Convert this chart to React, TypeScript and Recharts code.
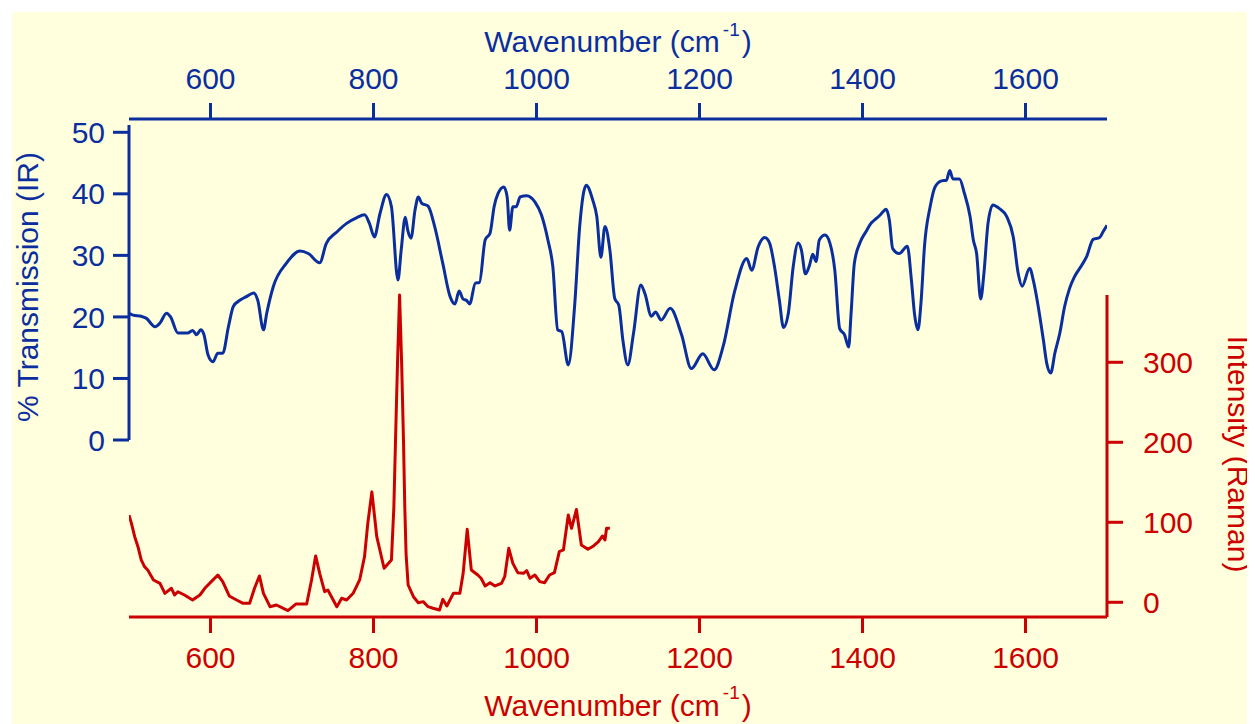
import { LineChart, Line, XAxis, YAxis, ReferenceLine } from 'recharts';

const BLUE = '#0B2E9E';
const RED = '#CC0000';
const BG = '#FFFFDE';
const FONT = "'Liberation Sans', Arial, Helvetica, sans-serif";

// IR spectrum: wavenumber (cm-1) and % transmission
const irWavenumber = [
  500, 505, 515, 521, 532, 538, 546, 551, 560, 572, 578, 583, 588, 592, 597, 603, 609, 615, 622, 628,
  636, 644, 653, 658, 665, 669, 677, 693, 710, 720, 734, 742, 755, 767, 779, 789, 795, 801, 808, 816,
  822, 830, 834, 839, 842, 846, 851, 855, 859, 867, 875, 885, 894, 900, 905, 910, 914, 918, 925, 930,
  937, 943, 948, 953, 960, 964, 967, 971, 975, 980, 988, 998, 1006, 1014, 1020, 1026, 1031, 1039, 1047, 1053,
  1061, 1069, 1074, 1079, 1084, 1090, 1096, 1101, 1106, 1112, 1119, 1128, 1133, 1141, 1146, 1153, 1164, 1178, 1190, 1204,
  1218, 1229, 1243, 1258, 1264, 1272, 1280, 1286, 1292, 1298, 1303, 1309, 1315, 1321, 1325, 1330, 1335, 1339, 1343, 1347,
  1354, 1360, 1366, 1372, 1378, 1383, 1386, 1390, 1397, 1404, 1411, 1417, 1422, 1429, 1433, 1437, 1445, 1455, 1460, 1464,
  1468, 1472, 1476, 1483, 1489, 1497, 1503, 1507, 1511, 1519, 1525, 1532, 1536, 1540, 1545, 1549, 1554, 1560, 1568, 1577,
  1585, 1591, 1596, 1605, 1610, 1615, 1622, 1626, 1631, 1636, 1642, 1648, 1654, 1660, 1669, 1675, 1683, 1691, 1695, 1700,
];
const irTransmission = [
  20.6, 20.3, 20.1, 19.8, 18.4, 19.0, 20.6, 20.0, 17.4, 17.4, 17.8, 17.1, 17.9, 17.1, 13.8, 12.7, 14.1, 14.1, 18.4, 21.7,
  22.7, 23.3, 23.9, 22.7, 17.9, 20.6, 24.9, 28.7, 30.7, 30.3, 28.8, 31.9, 33.8, 35.2, 36.1, 36.6, 35.2, 33.0, 36.8, 39.9,
  37.9, 26.0, 30.9, 36.2, 34.1, 32.8, 37.4, 39.5, 38.5, 38.0, 34.7, 28.7, 23.3, 22.1, 24.2, 22.9, 22.7, 22.1, 25.5, 25.6,
  32.5, 33.6, 37.9, 40.1, 41.1, 39.5, 34.1, 37.9, 37.9, 39.5, 39.7, 38.7, 36.6, 32.5, 28.2, 17.9, 17.6, 12.2, 22.2, 34.7,
  41.4, 39.0, 36.3, 29.7, 34.7, 30.9, 23.0, 21.9, 16.2, 12.2, 17.3, 25.2, 23.8, 20.1, 20.8, 19.5, 21.4, 17.1, 11.6, 14.0,
  11.4, 15.2, 24.1, 29.5, 27.6, 31.4, 32.9, 32.0, 28.2, 22.7, 18.3, 20.6, 28.2, 32.0, 30.9, 27.0, 28.4, 30.2, 29.0, 32.5,
  33.3, 32.0, 27.6, 18.1, 17.1, 15.1, 20.6, 28.7, 32.1, 33.8, 35.3, 36.0, 36.6, 37.5, 35.7, 31.1, 30.3, 31.5, 26.0, 20.3,
  17.9, 22.7, 31.4, 37.9, 41.1, 42.1, 42.2, 43.8, 42.4, 42.4, 40.1, 36.3, 32.5, 30.3, 22.9, 27.1, 35.2, 38.2, 37.6, 36.3,
  33.0, 27.1, 25.0, 27.9, 25.7, 22.2, 16.2, 12.5, 10.9, 14.1, 17.3, 21.7, 24.6, 26.5, 28.4, 29.8, 32.6, 32.9, 33.8, 34.9,
];

// Raman spectrum: wavenumber (cm-1) and intensity
const ramanWavenumber = [
  500, 503, 507, 511, 515, 519, 523, 530, 538, 544, 552, 556, 560, 568, 578, 587, 593, 601, 609, 615,
  623, 632, 640, 648, 654, 660, 665, 673, 681, 695, 705, 718, 724, 729, 734, 740, 744, 755, 761, 767,
  775, 783, 789, 793, 798, 804, 813, 822, 825, 827, 829.5, 832, 834.5, 836.8, 838.4, 840, 842.5, 849, 855, 861,
  867, 873, 881, 885, 890, 898, 906, 910, 915, 920, 928, 932, 937, 943, 949, 957, 961, 966, 971, 977,
  984, 988, 992, 998, 1004, 1010, 1016, 1022, 1028, 1033, 1039, 1043, 1049, 1055, 1063, 1070, 1076, 1081, 1084, 1086,
  1090,
];
const ramanIntensity = [
  109, 98.7, 82, 69.5, 52.9, 44.5, 40.4, 27.9, 23.7, 11.2, 17.5, 9.1, 13.2, 9.1, 2.9, 9.1, 17.5, 25.8, 34.1, 25.8,
  7.9, 2.9, -1.3, -1.3, 17.5, 32.9, 11.2, -5.5, -3.4, -10.4, -2.1, -2.1, 27.9, 57.9, 36.2, 13.2, 15.4, -5.5, 5, 2.9,
  11.2, 27.9, 57, 98.7, 138, 82, 42.5, 52.9, 119.5, 202, 300, 384, 300, 202, 119, 60, 21.6, 7, -0.5, 0.8,
  -5.5, -7.5, -9.6, 3.7, -4.6, 11.2, 11.2, 36.2, 91.2, 40.4, 34.1, 30, 20.4, 24.5, 20.4, 23.7, 32, 67.5, 48.7, 37,
  36.2, 39.5, 30, 34.1, 25.8, 24.5, 34.1, 37, 63.3, 65.4, 109, 92.5, 116, 71.6, 66.2, 70.4, 75.8, 82.9, 77.9, 92.5,
  92.5,
];

const xTicks = [600, 800, 1000, 1200, 1400, 1600];
const irTicks = [0, 10, 20, 30, 40, 50];
const ramanTicks = [0, 100, 200, 300];

const irData = irWavenumber.map((w, i) => ({ w, v: irTransmission[i] }));
const ramanData = ramanWavenumber.map((w, i) => ({ w, v: ramanIntensity[i] }));

const TopTitle = ({ viewBox }: any) => {
  const x = (viewBox?.x ?? 117) + (viewBox?.width ?? 978) / 2;
  const y = (viewBox?.y ?? 0) + 40;
  return (
    <text x={x} y={y} textAnchor="middle" fill={BLUE} fontSize={30} fontFamily={FONT}>
      Wavenumber (cm
      <tspan fontSize={19} dx={3} dy={-16}>-1</tspan>
      <tspan dx={2} dy={16}>)</tspan>
    </text>
  );
};

const BottomTitle = ({ viewBox }: any) => {
  const x = (viewBox?.x ?? 117) + (viewBox?.width ?? 978) / 2;
  const y = (viewBox?.y ?? 605) + 99;
  return (
    <text x={x} y={y} textAnchor="middle" fill={RED} fontSize={30} fontFamily={FONT}>
      Wavenumber (cm
      <tspan fontSize={19} dx={3} dy={-17}>-1</tspan>
      <tspan dx={2} dy={17}>)</tspan>
    </text>
  );
};

const LeftTitle = ({ viewBox }: any) => {
  const x = (viewBox?.x ?? 0) + 26;
  const y = (viewBox?.y ?? 107) + 168;
  return (
    <text x={x} y={y} textAnchor="middle" fill={BLUE} fontSize={30} fontFamily={FONT}
      transform={`rotate(-90, ${x}, ${y})`}>
      % Transmission (IR)
    </text>
  );
};

const RightTitle = ({ viewBox }: any) => {
  const x = (viewBox?.x ?? 1095) + 121;
  const y = (viewBox?.y ?? 107) + 335;
  return (
    <text x={x} y={y} textAnchor="middle" fill={RED} fontSize={30} fontFamily={FONT}
      transform={`rotate(90, ${x}, ${y})`}>
      Intensity (Raman)
    </text>
  );
};

const App = () => {
  return (
    <div style={{ paddingTop: 4, paddingLeft: 4 }}>
      <style>{'body{overflow:hidden}'}</style>
      <div style={{ width: 1243, height: 712, background: BG, fontFamily: FONT }}>
        <LineChart width={1243} height={712} margin={{ top: 0, right: 0, bottom: 0, left: 0 }}>
          <XAxis
            xAxisId="top"
            orientation="top"
            type="number"
            dataKey="w"
            domain={[500, 1700]}
            allowDataOverflow
            ticks={xTicks}
            interval={0}
            height={107}
            tickSize={16}
            tickMargin={14}
            tick={{ fontSize: 30, fill: BLUE }}
            axisLine={{ stroke: BLUE, strokeWidth: 3 }}
            tickLine={{ stroke: BLUE, strokeWidth: 3 }}
            label={(props: any) => <TopTitle {...props} />}
          />
          <XAxis
            xAxisId="bottom"
            orientation="bottom"
            type="number"
            dataKey="w"
            domain={[500, 1700]}
            allowDataOverflow
            ticks={xTicks}
            interval={0}
            height={107}
            tickSize={16}
            tickMargin={14}
            tick={{ fontSize: 30, fill: RED }}
            axisLine={{ stroke: RED, strokeWidth: 3 }}
            tickLine={{ stroke: RED, strokeWidth: 3 }}
            label={(props: any) => <BottomTitle {...props} />}
          />
          <YAxis
            yAxisId="ir"
            orientation="left"
            type="number"
            domain={[-28.76, 52.16]}
            allowDataOverflow
            ticks={irTicks}
            interval={0}
            width={117}
            tickSize={16}
            tickMargin={8}
            tick={{ fontSize: 30, fill: BLUE }}
            axisLine={false}
            tickLine={{ stroke: BLUE, strokeWidth: 3 }}
            label={(props: any) => <LeftTitle {...props} />}
          />
          <YAxis
            yAxisId="raman"
            orientation="right"
            type="number"
            domain={[-18.4, 604.1]}
            allowDataOverflow
            ticks={ramanTicks}
            interval={0}
            width={148}
            tickSize={16}
            tickMargin={20}
            tick={{ fontSize: 30, fill: RED }}
            axisLine={false}
            tickLine={{ stroke: RED, strokeWidth: 3 }}
            label={(props: any) => <RightTitle {...props} />}
          />
          <ReferenceLine
            xAxisId="bottom"
            yAxisId="ir"
            segment={[{ x: 500, y: 0 }, { x: 500, y: 51.2 }]}
            stroke={BLUE}
            strokeWidth={3}
            ifOverflow="visible"
          />
          <ReferenceLine
            xAxisId="bottom"
            yAxisId="raman"
            segment={[{ x: 1700, y: -18.4 }, { x: 1700, y: 384 }]}
            stroke={RED}
            strokeWidth={3}
            ifOverflow="visible"
          />
          <Line
            data={irData}
            xAxisId="top"
            yAxisId="ir"
            dataKey="v"
            type="monotone"
            stroke={BLUE}
            strokeWidth={3}
            dot={false}
            activeDot={false}
            isAnimationActive={false}
          />
          <Line
            data={ramanData}
            xAxisId="bottom"
            yAxisId="raman"
            dataKey="v"
            type="linear"
            stroke={RED}
            strokeWidth={3}
            strokeLinejoin="round"
            dot={false}
            activeDot={false}
            isAnimationActive={false}
          />
        </LineChart>
      </div>
    </div>
  );
};

export default App;
